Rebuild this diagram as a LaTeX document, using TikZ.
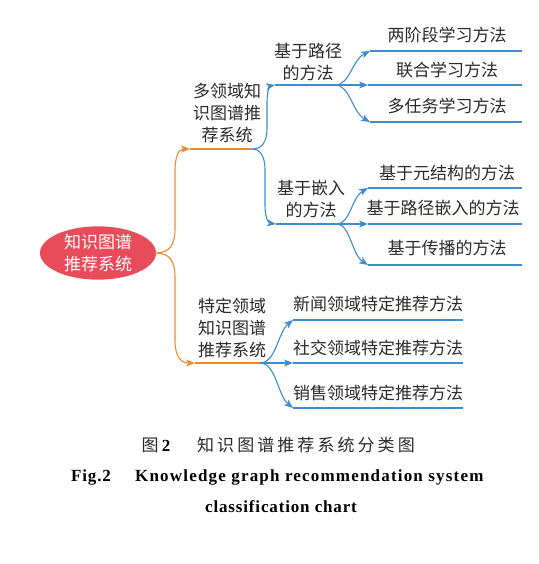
\documentclass[tikz,border=0pt]{standalone}
\usepackage{fontspec}
\setmainfont{Liberation Serif}
\newfontfamily\cjk{Noto Sans CJK SC}
\newfontfamily\cjkcap[LetterSpace=18]{Noto Sans CJK SC}
\newfontfamily\encap[LetterSpace=5]{Liberation Serif}
\newfontfamily\encapw[LetterSpace=7]{Liberation Serif}
\usetikzlibrary{shapes.geometric,arrows.meta,calc}
\definecolor{rootred}{HTML}{E84B5A}
\definecolor{orc}{HTML}{EE8A2E}
\definecolor{blc}{HTML}{3D8BD0}
\definecolor{txt}{HTML}{2A2A2A}
\tikzset{
  lbl/.style={font=\cjk\fontsize{17}{22}\selectfont, text=txt, align=center, inner sep=0pt},
  rootnode/.style={ellipse, fill=rootred, minimum width=116pt, minimum height=52pt, inner sep=0pt,
     font=\cjk\fontsize{17}{22}\selectfont, text=white, align=center},
  ocurve/.style={draw=orc, line width=1.1pt, -{Stealth[length=9pt,width=7pt,inset=2.5pt]}},
  oline/.style={draw=orc, line width=2pt},
  bcurve/.style={draw=blc, line width=1.1pt, -{Stealth[length=9pt,width=7pt,inset=2.5pt]}},
  bline/.style={draw=blc, line width=1.6pt},
}
\begin{document}
\begin{tikzpicture}[x=1pt,y=-1pt]
\useasboundingbox (0,0) rectangle (538,564);

% root
\node[rootnode] (root) at (98,253) {知识图谱\\推荐系统};
\coordinate (rs) at (155,253);

% level 1
\coordinate (t1) at (190,149); \coordinate (e1) at (252,149);
\coordinate (t2) at (195,363); \coordinate (e2) at (260,363);
\node[lbl] (m1) at (227,113) {多领域知\\识图谱推\\荐系统};
\node[lbl] (m2) at (232,328) {特定领域\\知识图谱\\推荐系统};

% level 2 under m1
\coordinate (t3) at (275,85);  \coordinate (ja) at (335,85);
\coordinate (t4) at (276,224); \coordinate (jb) at (337,224);
\node[lbl] (p1) at (308,62) {基于路径\\的方法};
\node[lbl] (p2) at (311,199) {基于嵌入\\的方法};

% leaves group A
\coordinate (a1) at (370,51);  \coordinate (a1e) at (522,51);
\coordinate (a2) at (368,85);  \coordinate (a2e) at (522,85);
\coordinate (a3) at (370,122); \coordinate (a3e) at (522,122);
\node[lbl] (la1) at (447,35) {两阶段学习方法};
\node[lbl] (la2) at (447,70) {联合学习方法};
\node[lbl] (la3) at (447,106) {多任务学习方法};

% leaves group B
\coordinate (b1) at (368,188); \coordinate (b1e) at (522,188);
\coordinate (b2) at (368,224); \coordinate (b2e) at (522,224);
\coordinate (b3) at (368,265); \coordinate (b3e) at (522,265);
\node[lbl] (lb1) at (447,173) {基于元结构的方法};
\node[lbl] (lb2) at (443,208) {基于路径嵌入的方法};
\node[lbl] (lb3) at (447,248) {基于传播的方法};

% leaves group C
\coordinate (c1) at (293,320); \coordinate (c1e) at (463,320);
\coordinate (c2) at (293,363); \coordinate (c2e) at (463,363);
\coordinate (c3) at (293,408); \coordinate (c3e) at (463,408);
\node[lbl] (lc1) at (378,304) {新闻领域特定推荐方法};
\node[lbl] (lc2) at (378,348) {社交领域特定推荐方法};
\node[lbl] (lc3) at (378,393) {销售领域特定推荐方法};

% horizontal lines (drawn first so arrowheads sit on top)
\draw[oline] (t1) -- (e1);
\draw[oline] (t2) -- (e2);
\draw[bline] (t3) -- (ja);
\draw[bline] (t4) -- (jb);
\draw[bline] (a1) -- (a1e);
\draw[bline] (a2) -- (a2e);
\draw[bline] (a3) -- (a3e);
\draw[bline] (b1) -- (b1e);
\draw[bline] (b2) -- (b2e);
\draw[bline] (b3) -- (b3e);
\draw[bline] (c1) -- (c1e);
\draw[bline] (c2) -- (c2e);
\draw[bline] (c3) -- (c3e);

% curved connectors
\draw[ocurve] (rs) .. controls (170,253) and (175,245) .. (175,228) -- (175,172) .. controls (175,155) and (179,149) .. (t1);
\draw[ocurve] (rs) .. controls (170,253) and (175,261) .. (175,278) -- (175,340) .. controls (175,357) and (181,363) .. (t2);
\draw[bcurve] (e1) .. controls (262,149) and (267,142) .. (267,128) -- (267,102) .. controls (267,91) and (270,86) .. (t3);
\draw[bcurve] (e1) .. controls (260,149) and (265,156) .. (265,170) -- (265,205) .. controls (265,217) and (268,223) .. (t4);
\draw[bcurve] (ja) .. controls (350,85) and (352,60) .. (a1);
\draw[bcurve] (ja) -- (a2);
\draw[bcurve] (ja) .. controls (350,85) and (352,112) .. (a3);
\draw[bcurve] (jb) .. controls (350,224) and (352,197) .. (b1);
\draw[bcurve] (jb) -- (b2);
\draw[bcurve] (jb) .. controls (350,224) and (352,255) .. (b3);
\draw[bcurve] (e2) .. controls (276,363) and (278,332) .. (c1);
\draw[bcurve] (e2) -- (c2);
\draw[bcurve] (e2) .. controls (276,363) and (278,396) .. (c3);

% captions
\node[font=\cjk\fontsize{17}{18}\selectfont, text=txt, inner sep=0pt] (cap1) at (150,445) {图};
\node[font=\bfseries\fontsize{17}{18}\selectfont, inner sep=0pt] (cap2) at (166,446) {2};
\node[font=\cjkcap\fontsize{17}{18}\selectfont, text=txt, inner sep=0pt, anchor=west] (cap3) at (197,445) {知识图谱推荐系统分类图};
\node[font=\encap\bfseries\fontsize{17}{20}\selectfont, inner sep=0pt, anchor=west] (cap4) at (71,477) {Fig.2};
\node[font=\encapw\bfseries\fontsize{17}{20}\selectfont, inner sep=0pt, anchor=west] (cap5) at (135,477) {Knowledge graph recommendation system};
\node[font=\encap\bfseries\fontsize{17}{20}\selectfont, inner sep=0pt] (cap6) at (281,507) {classification chart};
\end{tikzpicture}
\end{document}
